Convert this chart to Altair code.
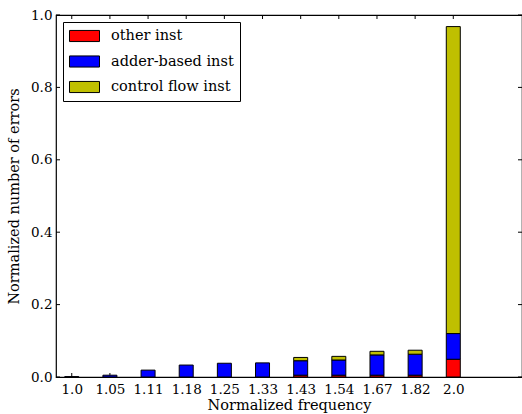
import altair as alt
import pandas as pd

labels = ['1.0', '1.05', '1.11', '1.18', '1.25', '1.33', '1.43', '1.54', '1.67', '1.82', '2.0']
other_inst = [0, 0, 0, 0, 0, 0, 0.005, 0.005, 0.005, 0.005, 0.049]
adder_inst = [0.001, 0.005, 0.019, 0.033, 0.038, 0.039, 0.040, 0.042, 0.056, 0.058, 0.071]
control_inst = [0, 0, 0, 0, 0, 0, 0.009, 0.010, 0.010, 0.011, 0.848]
series = ['other inst', 'adder-based inst', 'control flow inst']
colors = ['#ff0000', '#0000ff', '#bfbf00']
y_ticks = [0.0, 0.2, 0.4, 0.6, 0.8, 1.0]

rows = []
for i, lab in enumerate(labels):
    for k, (name, vals) in enumerate(zip(series, [other_inst, adder_inst, control_inst])):
        rows.append({'idx': i, 'freq': lab, 'series': name, 'order': k, 'value': vals[i]})
df = pd.DataFrame(rows)
df = df[df['value'] > 0]

W, H = 466, 362
FONT = "DejaVu Serif"
xdom = [-0.282, 11.67]
label_expr = "[" + ",".join("'%s'" % l for l in labels) + "][datum.value]"

xscale = alt.Scale(domain=xdom, nice=False, zero=False)
yscale = alt.Scale(domain=[0, 1], nice=False)

bars = alt.Chart(df).mark_bar(size=14, stroke='black', strokeWidth=1).encode(
    x=alt.X('idx:Q', scale=xscale,
            axis=alt.Axis(values=list(range(len(labels))), labelExpr=label_expr,
                          title='Normalized frequency', grid=False, tickSize=0,
                          domain=False, labelPadding=5, titleY=32,
                          titleBaseline='alphabetic')),
    y=alt.Y('value:Q', stack='zero', scale=yscale,
            axis=alt.Axis(values=y_ticks, format='.1f', title='Normalized number of errors',
                          grid=False, tickSize=0, domain=False, labelPadding=4,
                          titleX=-42, titleBaseline='middle')),
    color=alt.Color('series:N', scale=alt.Scale(domain=series, range=colors),
                    legend=alt.Legend(title=None, orient='none', legendX=7, legendY=7,
                                      symbolType='M-1,-0.74H3V0.74H-1Z', symbolSize=225,
                                      symbolStrokeColor='black', symbolStrokeWidth=1,
                                      symbolOpacity=1,
                                      labelFont=FONT, labelFontSize=14.5, labelColor='black',
                                      labelOffset=26, rowPadding=9.5, padding=6,
                                      strokeColor='black', fillColor='white',
                                      cornerRadius=0)),
    order=alt.Order('order:Q', sort='ascending'),
)

ydf = pd.DataFrame({'v': y_ticks})
xdf = pd.DataFrame({'i': list(range(len(labels)))})

lt = alt.Chart(ydf).mark_rule(color='black', strokeWidth=1).encode(
    y=alt.Y('v:Q', scale=yscale), x=alt.value(0), x2=alt.value(4))
rt = alt.Chart(ydf).mark_rule(color='black', strokeWidth=1).encode(
    y=alt.Y('v:Q', scale=yscale), x=alt.value(W - 4), x2=alt.value(W))
bt = alt.Chart(xdf).mark_rule(color='black', strokeWidth=1).encode(
    x=alt.X('i:Q', scale=xscale), y=alt.value(H), y2=alt.value(H - 4))
tt = alt.Chart(xdf).mark_rule(color='black', strokeWidth=1).encode(
    x=alt.X('i:Q', scale=xscale), y=alt.value(0), y2=alt.value(4))

chart = alt.layer(lt, rt, bt, tt, bars).properties(
    width=W, height=H,
    autosize=alt.AutoSizeParams(type='none'),
    padding={'left': 56, 'top': 15, 'right': 0, 'bottom': 37},
    background='white',
).configure_view(stroke='black', strokeWidth=1.2).configure_axis(
    labelFont=FONT, labelFontSize=13.5, labelColor='black',
    titleFont=FONT, titleFontSize=14.5, titleFontWeight='normal', titleColor='black',
)

chart.save("out.html", embed_options={"renderer": "svg", "actions": False})
